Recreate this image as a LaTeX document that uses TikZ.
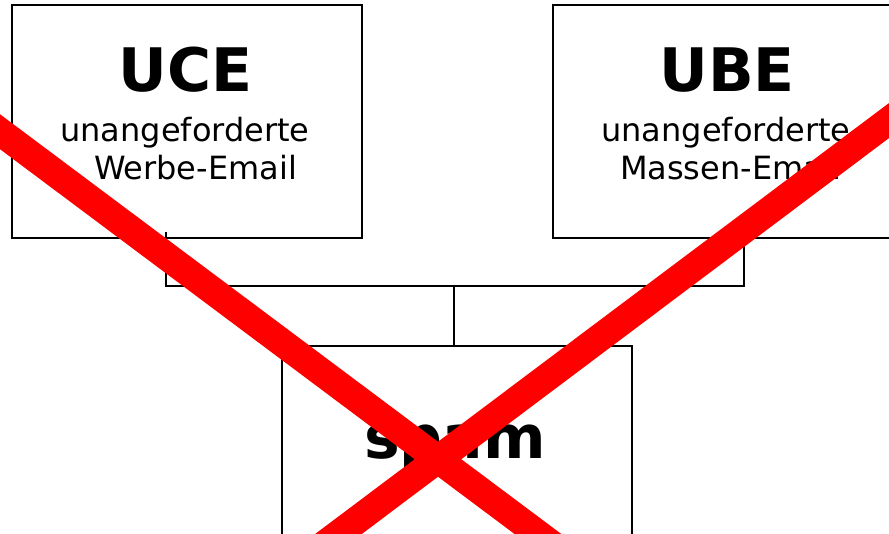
\documentclass[tikz,border=0pt]{standalone}
\usepackage{fontspec}
\setmainfont{DejaVu Sans}
\usetikzlibrary{calc}
\tikzset{
  box/.style={draw=black, line width=2pt, rectangle, minimum width=350pt, minimum height=233pt, inner sep=0pt, outer sep=0pt, anchor=north west},
  titletext/.style={anchor=base, inner sep=0pt, font=\fontsize{60pt}{60pt}\selectfont\bfseries},
  subtext/.style={anchor=base, inner sep=0pt, font=\fontsize{32pt}{38pt}\selectfont},
  conn/.style={draw=black, line width=2pt},
  redx/.style={draw={rgb,255:red,255;green,0;blue,0}, line width=28pt, line cap=butt}
}
\begin{document}
\begin{tikzpicture}[x=1pt,y=-1pt]
\useasboundingbox (0,0) rectangle (889,534);
\clip (0,0) rectangle (889,534);
% boxes
\node[box] (uce) at (12,5) {};
\node[box] (ube) at (553,5) {};
\node[box] (spam) at (282,346) {};
% texts
\node[titletext] (uceT) at ([xshift=-1.5pt,yshift=-87pt]uce.north) {UCE};
\node[subtext] (uceL1) at ([xshift=-2pt,yshift=-137pt]uce.north) {unangeforderte};
\node[subtext] (uceL2) at ([xshift=8.5pt,yshift=-175pt]uce.north) {Werbe-Email};
\node[titletext] (ubeT) at ([xshift=-1pt,yshift=-87pt]ube.north) {UBE};
\node[subtext] (ubeL1) at ([xshift=-2pt,yshift=-137pt]ube.north) {unangeforderte};
\node[subtext] (ubeL2) at ([xshift=2.5pt,yshift=-175pt]ube.north) {Massen-Email};
\node[titletext] (spamT) at ([xshift=-2pt,yshift=-112pt]spam.north) {spam};
% connectors
\coordinate (uceport) at (166,232);
\coordinate (ubeport) at (743.5,238);
\coordinate (bus) at (453.5,286.5);
\draw[conn] (uceport) |- (bus) -| (ubeport);
\draw[conn] (bus) -- (bus |- spam.north);
% red cross
\coordinate (xa1) at (-40,101.8);
\coordinate (xa2) at (600,580.4);
\coordinate (xb1) at (930,89.8);
\coordinate (xb2) at (280,577.9);
\draw[redx] (xa1) -- (xa2);
\draw[redx] (xb1) -- (xb2);
\end{tikzpicture}
\end{document}
